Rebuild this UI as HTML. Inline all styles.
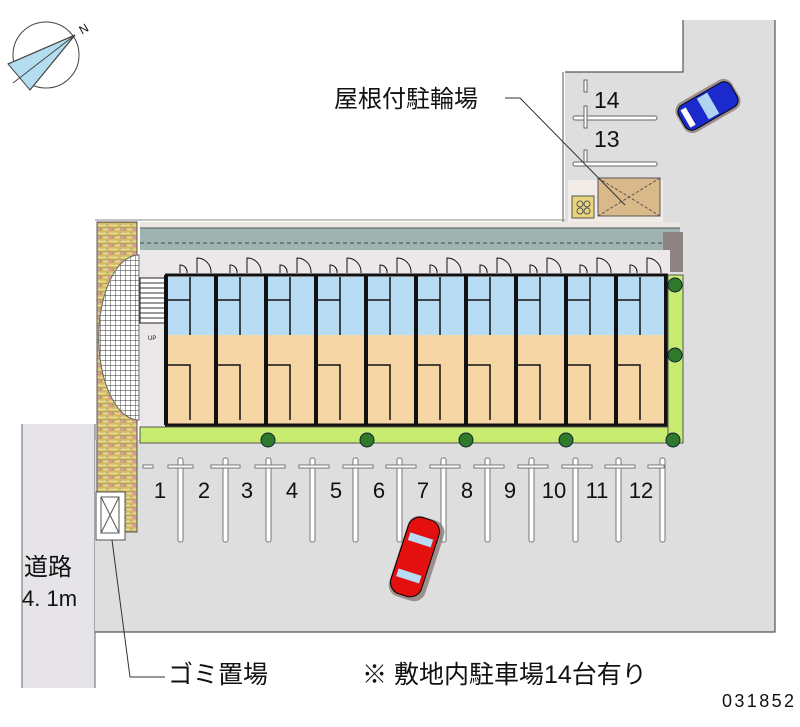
<!DOCTYPE html>
<html><head><meta charset="utf-8"><style>
html,body{margin:0;padding:0;background:#fff;}
svg{display:block;}
text{font-family:"Liberation Sans","Noto Sans CJK JP",sans-serif;fill:#111;}
</style></head><body>
<svg width="800" height="727" viewBox="0 0 800 727" xmlns="http://www.w3.org/2000/svg">
<defs>
<pattern id="brick" width="12" height="8" patternUnits="userSpaceOnUse">
<rect width="12" height="8" fill="#e8d070"/>
<rect x="0" y="0" width="11" height="3" fill="#f0dc88" stroke="#8a7a40" stroke-width="0.5"/>
<rect x="-6" y="4" width="11" height="3" fill="#e9a0a0" stroke="#8a7a40" stroke-width="0.5"/>
<rect x="6" y="4" width="11" height="3" fill="#f0dc88" stroke="#8a7a40" stroke-width="0.5"/>
</pattern>
<pattern id="grid" width="5" height="5" patternUnits="userSpaceOnUse">
<rect width="5" height="5" fill="#fff"/><path d="M0 0H5M0 0V5" stroke="#333" stroke-width="0.9"/>
</pattern>
</defs>
<!-- road -->
<rect x="22" y="424" width="73" height="264" fill="#e6e4e8"/>
<line x1="22" y1="424" x2="22" y2="688" stroke="#666"/>
<line x1="95" y1="424" x2="95" y2="688" stroke="#666"/>
<!-- lot -->
<path d="M95 440 H775 V632 H95 Z" fill="#dedede"/>
<path d="M565 72 H683 V20 H775 V632 H565 Z" fill="#dedede"/>
<path d="M565 72 H683 V20 M775 20 V632 H95" fill="none" stroke="#555" stroke-width="1.2"/>
<line x1="563" y1="72" x2="563" y2="225" stroke="#555"/>
<!-- bike area -->
<rect x="568" y="180" width="95" height="45" fill="#f2ece8"/>
<rect x="598" y="178" width="62" height="38" fill="#d9b88a" stroke="#555"/>
<path d="M598 178 L660 216 M660 178 L598 216" stroke="#555" stroke-dasharray="3 2"/>
<rect x="572" y="196" width="22" height="22" fill="#ead57f" stroke="#555"/>
<circle cx="580" cy="204" r="3" fill="none" stroke="#555"/><circle cx="587" cy="204" r="3" fill="none" stroke="#555"/>
<circle cx="580" cy="211" r="3" fill="none" stroke="#555"/><circle cx="587" cy="211" r="3" fill="none" stroke="#555"/>
<!-- spots 14 13 -->
<rect x="573" y="116" width="84" height="4" rx="2" fill="#fff" stroke="#666"/>
<rect x="573" y="162" width="84" height="4" rx="2" fill="#fff" stroke="#666"/>
<rect x="584" y="80" width="3" height="12" fill="#fff" stroke="#666"/>
<rect x="584" y="106" width="3" height="22" fill="#fff" stroke="#666"/>
<rect x="584" y="150" width="3" height="12" fill="#fff" stroke="#666"/>
<text x="594" y="108" font-size="23">14</text>
<text x="594" y="147" font-size="23">13</text>
<!-- blue car -->
<g transform="translate(708,106) rotate(-30)">
<rect x="-32" y="-17" width="64" height="34" rx="10" fill="#8a7a78" opacity="0.8"/>
<rect x="-30" y="-14" width="60" height="28" rx="8" fill="#1a2acc" stroke="#000"/>
<rect x="-6" y="-12" width="12" height="24" fill="#b0d4f0"/>
<rect x="-26" y="-10" width="6" height="20" fill="#fff"/>
</g>
<!-- wall top -->
<rect x="140" y="222" width="540" height="28" fill="#9fb3b0"/>
<rect x="140" y="222" width="540" height="6" fill="#ece6e0"/>
<line x1="140" y1="228" x2="680" y2="228" stroke="#555"/>
<line x1="140" y1="243" x2="680" y2="243" stroke="#444" stroke-dasharray="4 3"/>
<line x1="95" y1="220" x2="565" y2="220" stroke="#888"/>
<rect x="663" y="232" width="20" height="40" fill="#8e8282"/>
<!-- building back -->
<rect x="140" y="250" width="530" height="180" fill="#ece8ea"/>
<!-- brick -->
<rect x="97" y="222" width="40" height="310" fill="url(#brick)" stroke="#555"/>
<path d="M139 255 A40 82 0 0 0 139 420 Z" fill="url(#grid)" stroke="#666"/>
<rect x="140" y="278" width="25" height="45" fill="#fff" stroke="#222"/>
<path d="M140 283H165M140 288H165M140 293H165M140 298H165M140 303H165M140 308H165M140 313H165M140 318H165" stroke="#333"/>
<text x="148" y="340" font-size="6">UP</text>
<!-- garbage -->
<rect x="96" y="492" width="29" height="48" fill="#fff" stroke="#555"/>
<rect x="101" y="497" width="18" height="36" fill="none" stroke="#555"/>
<path d="M101 497 L119 533 M119 497 L101 533" stroke="#555"/>
<!-- units -->
<g>
<rect x="168" y="277" width="47" height="58" fill="#b8dcf4"/><rect x="168" y="335" width="47" height="89" fill="#f7d6a6"/>
<rect x="218" y="277" width="47" height="58" fill="#b8dcf4"/><rect x="218" y="335" width="47" height="89" fill="#f7d6a6"/>
<rect x="268" y="277" width="47" height="58" fill="#b8dcf4"/><rect x="268" y="335" width="47" height="89" fill="#f7d6a6"/>
<rect x="318" y="277" width="47" height="58" fill="#b8dcf4"/><rect x="318" y="335" width="47" height="89" fill="#f7d6a6"/>
<rect x="368" y="277" width="47" height="58" fill="#b8dcf4"/><rect x="368" y="335" width="47" height="89" fill="#f7d6a6"/>
<rect x="418" y="277" width="47" height="58" fill="#b8dcf4"/><rect x="418" y="335" width="47" height="89" fill="#f7d6a6"/>
<rect x="468" y="277" width="47" height="58" fill="#b8dcf4"/><rect x="468" y="335" width="47" height="89" fill="#f7d6a6"/>
<rect x="518" y="277" width="47" height="58" fill="#b8dcf4"/><rect x="518" y="335" width="47" height="89" fill="#f7d6a6"/>
<rect x="568" y="277" width="47" height="58" fill="#b8dcf4"/><rect x="568" y="335" width="47" height="89" fill="#f7d6a6"/>
<rect x="618" y="277" width="47" height="58" fill="#b8dcf4"/><rect x="618" y="335" width="47" height="89" fill="#f7d6a6"/>
</g>
<g stroke="#111" fill="none">
<path d="M166 275V425M216 275V425M266 275V425M316 275V425M366 275V425M416 275V425M466 275V425M516 275V425M566 275V425M616 275V425M666 275V425" stroke-width="4"/>
<line x1="165" y1="275" x2="668" y2="275" stroke-width="3"/>
<line x1="165" y1="425" x2="668" y2="425" stroke-width="3"/>
</g>
<g fill="none" stroke="#111" stroke-width="1.5">
<path d="M168 300H190V335M190 277V300M168 365H190V420M218 300H240V335M240 277V300M218 365H240V420M268 300H290V335M290 277V300M268 365H290V420M318 300H340V335M340 277V300M318 365H340V420M368 300H390V335M390 277V300M368 365H390V420M418 300H440V335M440 277V300M418 365H440V420M468 300H490V335M490 277V300M468 365H490V420M518 300H540V335M540 277V300M518 365H540V420M568 300H590V335M590 277V300M568 365H590V420M618 300H640V335M640 277V300M618 365H640V420"/>
<path d="M197 273V258A14 14 0 0 1 211 273M247 273V258A14 14 0 0 1 261 273M297 273V258A14 14 0 0 1 311 273M347 273V258A14 14 0 0 1 361 273M397 273V258A14 14 0 0 1 411 273M447 273V258A14 14 0 0 1 461 273M497 273V258A14 14 0 0 1 511 273M547 273V258A14 14 0 0 1 561 273M597 273V258A14 14 0 0 1 611 273M647 273V258A14 14 0 0 1 661 273" stroke-width="1"/>
<path d="M180 273V265A7 7 0 0 1 187 273M230 273V265A7 7 0 0 1 237 273M280 273V265A7 7 0 0 1 287 273M330 273V265A7 7 0 0 1 337 273M380 273V265A7 7 0 0 1 387 273M430 273V265A7 7 0 0 1 437 273M480 273V265A7 7 0 0 1 487 273M530 273V265A7 7 0 0 1 537 273M580 273V265A7 7 0 0 1 587 273M630 273V265A7 7 0 0 1 637 273" stroke-width="1"/>
</g>
<!-- green strips -->
<rect x="140" y="427" width="543" height="16" fill="#c8ec70" stroke="#555"/>
<rect x="668" y="275" width="15" height="168" fill="#c8ec70" stroke="#555"/>
<g fill="#2e7a2a" stroke="#123">
<circle cx="268" cy="440" r="7"/><circle cx="367" cy="440" r="7"/><circle cx="466" cy="440" r="7"/><circle cx="566" cy="440" r="7"/><circle cx="673" cy="440" r="7"/>
<circle cx="675" cy="285" r="7"/><circle cx="675" cy="355" r="7"/>
</g>
<!-- parking lines -->
<g fill="#fff" stroke="#777">
<rect x="143" y="465" width="10" height="3"/>
<rect x="178" y="458" width="5" height="84" rx="2"/><rect x="168" y="465" width="25" height="3"/>
<rect x="223" y="458" width="5" height="84" rx="2"/><rect x="211" y="465" width="29" height="3"/>
<rect x="266" y="458" width="5" height="84" rx="2"/><rect x="255" y="465" width="30" height="3"/>
<rect x="310" y="458" width="5" height="84" rx="2"/><rect x="299" y="465" width="30" height="3"/>
<rect x="353" y="458" width="5" height="84" rx="2"/><rect x="343" y="465" width="30" height="3"/>
<rect x="397" y="458" width="5" height="84" rx="2"/><rect x="386" y="465" width="30" height="3"/>
<rect x="441" y="458" width="5" height="84" rx="2"/><rect x="430" y="465" width="30" height="3"/>
<rect x="485" y="458" width="5" height="84" rx="2"/><rect x="474" y="465" width="30" height="3"/>
<rect x="529" y="458" width="5" height="84" rx="2"/><rect x="518" y="465" width="30" height="3"/>
<rect x="573" y="458" width="5" height="84" rx="2"/><rect x="562" y="465" width="30" height="3"/>
<rect x="616" y="458" width="5" height="84" rx="2"/><rect x="605" y="465" width="30" height="3"/>
<rect x="660" y="458" width="5" height="84" rx="2"/><rect x="648" y="465" width="16" height="3"/>
</g>
<g font-size="22" text-anchor="middle">
<text x="160" y="498">1</text><text x="204" y="498">2</text><text x="247" y="498">3</text><text x="292" y="498">4</text><text x="336" y="498">5</text><text x="379" y="498">6</text><text x="423" y="498">7</text><text x="467" y="498">8</text><text x="510" y="498">9</text><text x="554" y="498">10</text><text x="597" y="498">11</text><text x="641" y="498">12</text>
</g>
<!-- red car -->
<g transform="translate(415,557) rotate(18)">
<rect x="-17" y="-41" width="38" height="84" rx="12" fill="#8a7a78" opacity="0.8"/>
<rect x="-16" y="-40" width="32" height="80" rx="12" fill="#e41010" stroke="#000"/>
<rect x="-12" y="-22" width="24" height="8" fill="#b8dcf4"/>
<rect x="-12" y="16" width="24" height="8" fill="#b8dcf4"/>
</g>
<!-- compass -->
<g fill="none" stroke="#444">
<circle cx="46" cy="55" r="33"/>
<path d="M8 64 L75 35 L30 90 Z" fill="#b4def0"/>
<path d="M8 64 L75 35 M30 90 L75 35 M13 83 L75 35"/>
</g>
<text x="80" y="33" font-size="12" transform="rotate(-30 84 30)">N</text>
<!-- labels -->
<text x="334" y="107" font-size="24">屋根付駐輪場</text>
<path d="M505 98 H520 L625 205" fill="none" stroke="#333"/>
<text x="24" y="575" font-size="24">道路</text>
<text x="22" y="606" font-size="22">4. 1m</text>
<path d="M112 540 L130 677 H165" fill="none" stroke="#333"/>
<text x="168" y="683" font-size="25">ゴミ置場</text>
<text x="362" y="683" font-size="25">※ 敷地内駐車場14台有り</text>
<text x="722" y="707" font-size="18" textLength="72">031852</text>
</svg>
</body></html>
